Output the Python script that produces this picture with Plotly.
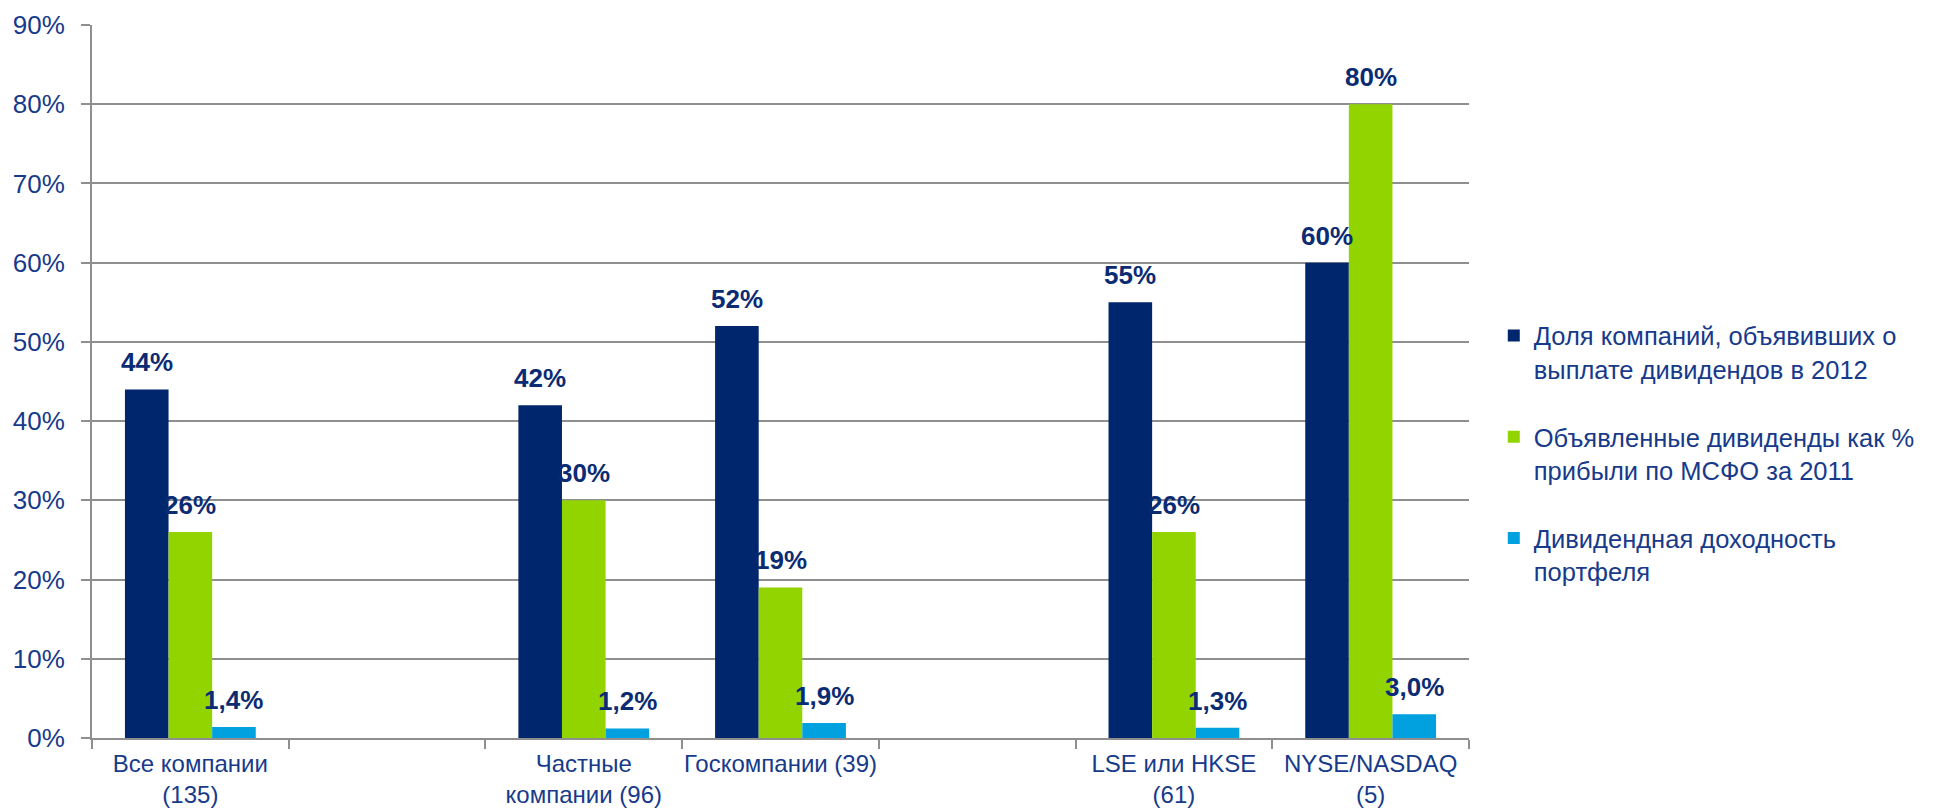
import plotly.graph_objects as go

# Category slots along the x axis (blank slots separate the groups)
categories = [
    "Все компании<br>(135)",
    "",
    "Частные<br>компании (96)",
    "Госкомпании (39)",
    "",
    "LSE или HKSE<br>(61)",
    "NYSE/NASDAQ<br>(5)",
]

series_names = [
    "Доля компаний, объявивших о<br>выплате дивидендов в 2012",
    "Объявленные дивиденды как %<br>прибыли по МСФО за 2011",
    "Дивидендная доходность<br>портфеля",
]

# Values in percent; None marks an empty slot
share_paying = [44, None, 42, 52, None, 55, 60]
payout_ratio = [26, None, 30, 19, None, 26, 80]
div_yield = [1.4, None, 1.2, 1.9, None, 1.3, 3.0]

y_ticks = [0, 10, 20, 30, 40, 50, 60, 70, 80, 90]

NAVY = "#00266E"
GREEN = "#92D400"
CYAN = "#00A1DE"
TEXT = "#173A8A"
LABEL = "#0B2B73"
GRID = "#8F8F8F"
FONT = "Arial, Liberation Sans, sans-serif"

BARGAP = 0.335
slots = list(range(len(categories)))

series = [
    (series_names[0], share_paying, NAVY, "a", "{:.0f}%"),
    (series_names[1], payout_ratio, GREEN, "b", "{:.0f}%"),
    (series_names[2], div_yield, CYAN, "c", "{:.1f}%"),
]

fig = go.Figure()
annotations = []
n = len(series)
bar_w = (1 - BARGAP) / n
for k, (name, vals, color, grp, fmt) in enumerate(series):
    fig.add_trace(go.Bar(
        x=slots,
        y=vals,
        name=name,
        legendgroup=grp,
        marker=dict(color=color, line=dict(width=0)),
        hoverinfo="skip",
    ))
    offset = (k - (n - 1) / 2) * bar_w
    for i, v in enumerate(vals):
        if v is None:
            continue
        annotations.append(dict(
            x=i + offset, y=v, xref="x", yref="y",
            text="<b>" + fmt.format(v).replace(".", ",") + "</b>",
            showarrow=False, yanchor="bottom", xanchor="center",
            yshift=10,
            font=dict(family=FONT, size=26, color=LABEL),
        ))

fig.update_layout(
    width=1937, height=808, autosize=False,
    margin=dict(l=92, r=468, t=25, b=70, pad=0),
    paper_bgcolor="white", plot_bgcolor="white",
    barmode="group", bargap=BARGAP, bargroupgap=0,
    font=dict(family=FONT, color=TEXT, size=24),
    annotations=annotations,
    showlegend=True,
    legend=dict(
        x=1.018, xanchor="left", y=0.597, yanchor="top",
        valign="top", tracegroupgap=32,
        font=dict(family=FONT, size=25.5, color=TEXT),
        bgcolor="rgba(0,0,0,0)", borderwidth=0,
    ),
)

fig.update_xaxes(
    type="category",
    categoryorder="array", categoryarray=slots,
    tickmode="array", tickvals=slots, ticktext=categories,
    range=[-0.5, len(categories) - 0.5],
    tickson="boundaries", ticks="outside", ticklen=9,
    tickwidth=2, tickcolor=GRID,
    showline=True, linecolor=GRID, linewidth=2,
    showgrid=False, zeroline=False,
    tickfont=dict(family=FONT, size=24, color=TEXT),
    tickangle=0,
    automargin=False,
    ticklabelstandoff=3,
)

fig.update_yaxes(
    range=[0, 90],
    tickmode="array", tickvals=y_ticks,
    ticktext=[f"{t}%" for t in y_ticks],
    ticks="outside", ticklen=9, tickwidth=2, tickcolor=GRID,
    showline=True, linecolor=GRID, linewidth=2,
    showgrid=True, gridcolor=GRID, gridwidth=2,
    zeroline=False,
    tickfont=dict(family=FONT, size=26, color=TEXT),
    ticklabelstandoff=11,
    automargin=False,
)

fig.write_html("out.html")
